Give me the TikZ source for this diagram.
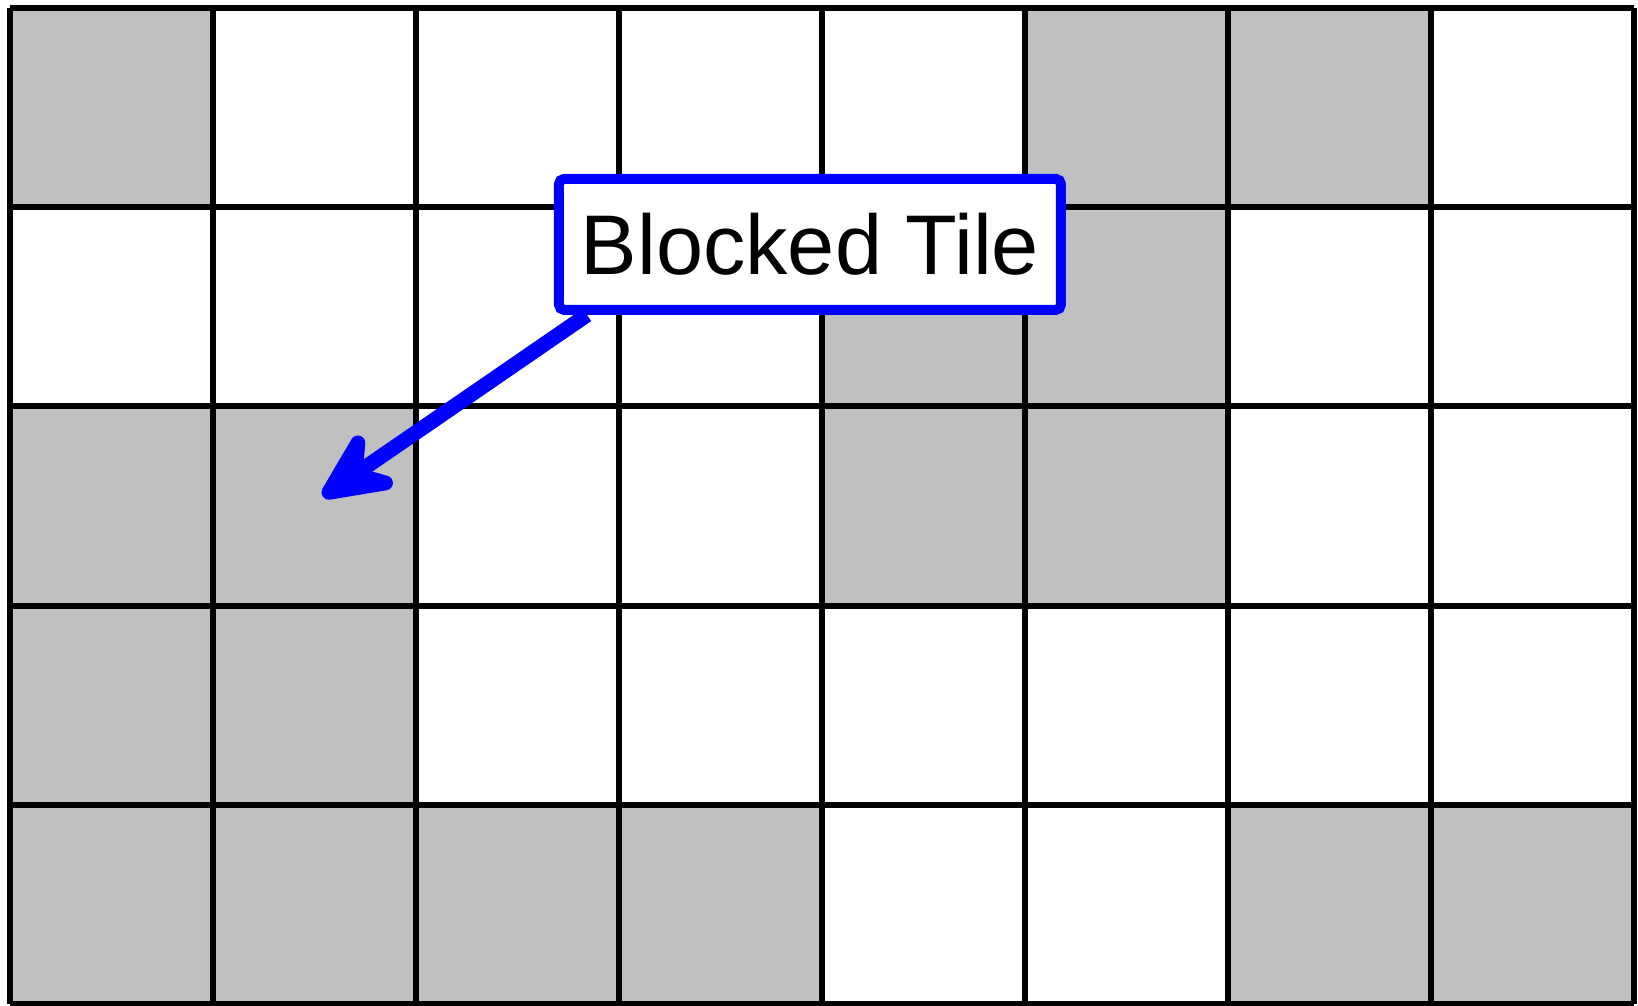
\documentclass[tikz,border=0pt]{standalone}
\usepackage{fontspec}
\setmainfont{Liberation Sans}
\usepackage{xcolor}
\usepackage{tikz}
\usetikzlibrary{arrows.meta, positioning}
\definecolor{myblue}{RGB}{0,0,255}
\definecolor{mygray}{RGB}{192,192,192}
\definecolor{mydark}{RGB}{0,0,0}
\tikzset{
  tile/.style={fill=mygray, draw=none},
  gridline/.style={line width=0.06cm, color=mydark},
  labelbox/.style={rectangle, draw=myblue, fill=white, line width=0.1cm, minimum width=5.02cm, minimum height=1.31cm, rounded corners=1.5pt, inner sep=0pt, font=\fontsize{24.1}{28}\selectfont},
  pointer/.style={-{Stealth[length=0.95cm, width=0.88cm, inset=0.36cm, round]}, line width=0.15cm, color=myblue}
}

\begin{document}
\begin{tikzpicture}[x=2.03cm, y=1.992cm]
  \useasboundingbox (-0.047,-0.01) rectangle (8.022,5.04);

  % Blocked tiles (column/row, row 0 at the bottom)
  \foreach \c/\r in {0/4, 5/4, 6/4,
                     4/3, 5/3,
                     0/2, 1/2, 4/2, 5/2,
                     0/1, 1/1,
                     0/0, 1/0, 2/0, 3/0, 6/0, 7/0}
    \fill[tile] (\c,\r) rectangle ++(1,1);

  % Grid
  \foreach \x in {0,...,8}
    \draw[gridline] (\x,0) -- (\x,5);
  \foreach \y in {0,...,5}
    \draw[gridline] (0,\y) -- (8,\y);

  % Label and pointer
  \coordinate (tip) at (1.543,2.547);
  \node[labelbox] (blocked) at (3.943,3.813) {Blocked Tile};
  \draw[pointer] ([xshift=0.33cm]blocked.south west) -- (tip);
\end{tikzpicture}
\end{document}
